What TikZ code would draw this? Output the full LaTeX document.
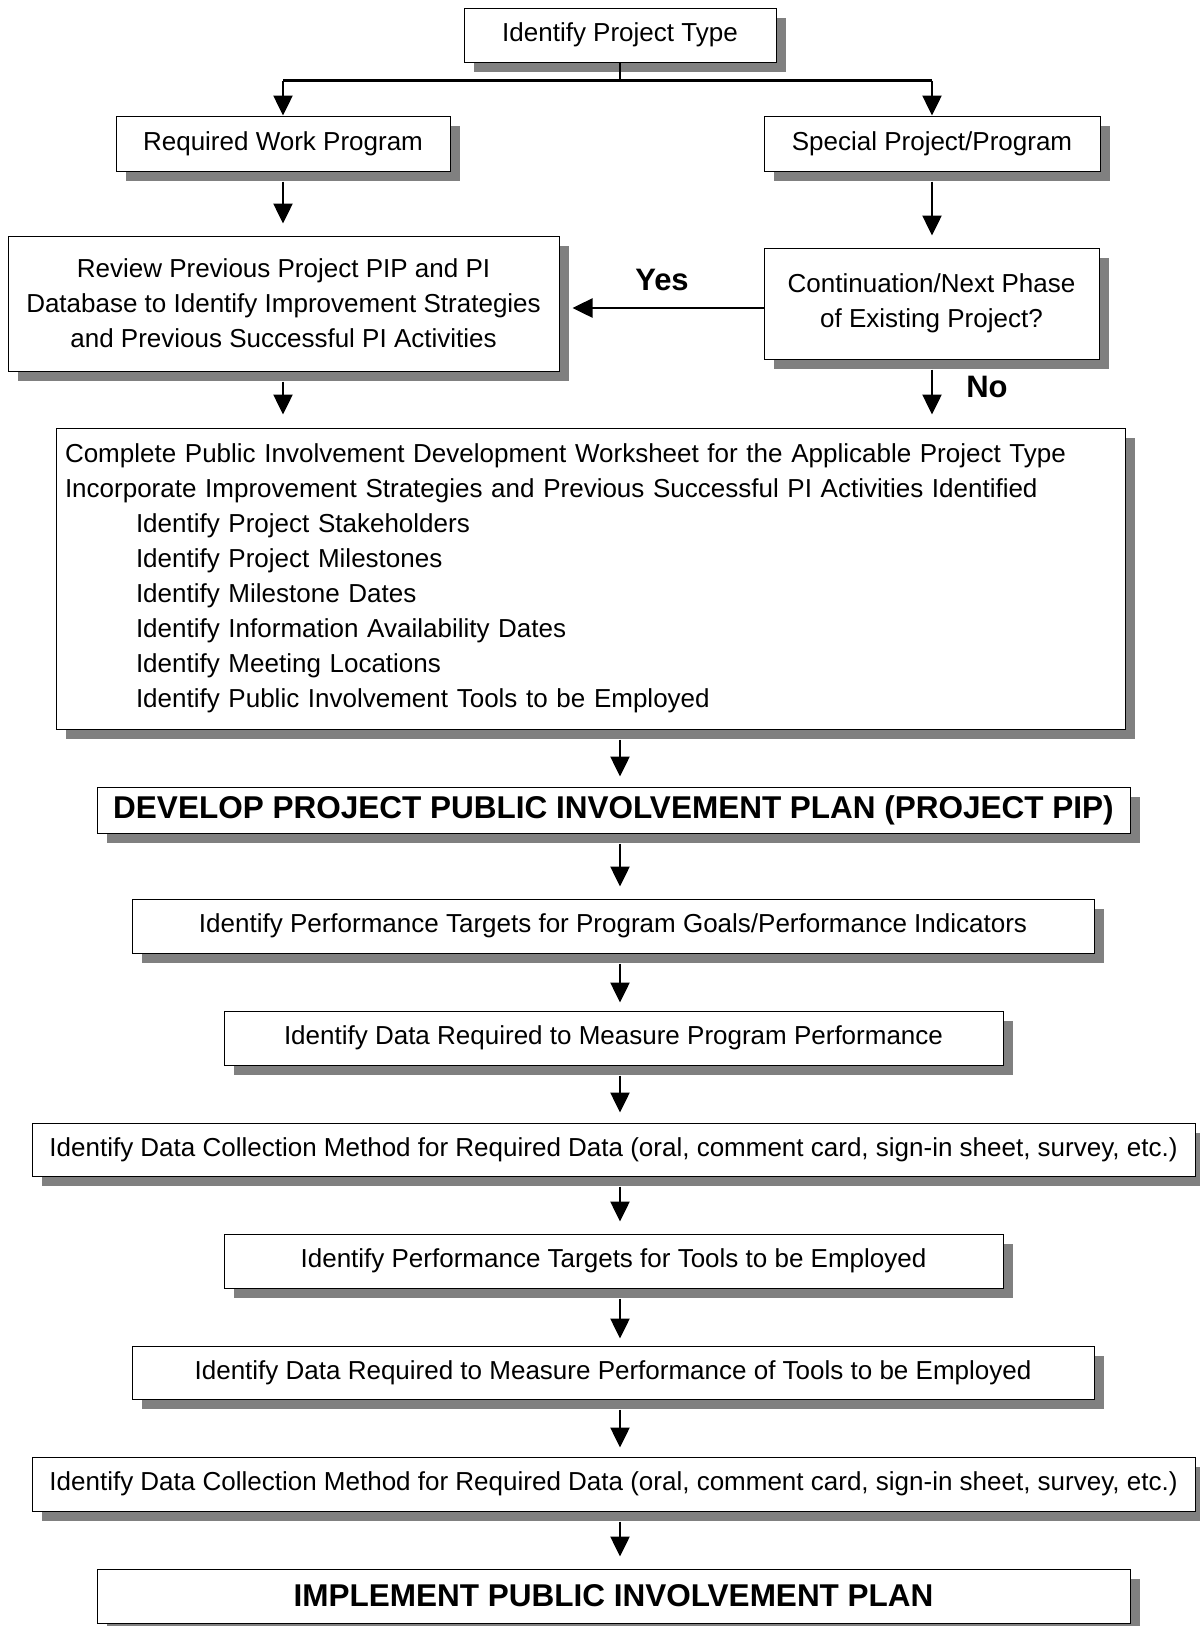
\documentclass[tikz,border=0pt]{standalone}
\usepackage{fontspec}
\setmainfont{Liberation Sans}
\usetikzlibrary{arrows.meta,shadows,calc}
\definecolor{shadowgray}{RGB}{128,128,128}
\begin{document}
\begin{tikzpicture}[x=1pt,y=1pt,
  box/.style={draw=black, line width=1pt, fill=white,
    drop shadow={shadow xshift=10pt, shadow yshift=-10pt, fill=shadowgray, opacity=1},
    inner sep=2pt, font=\fontsize{26}{35}\selectfont, align=center},
  bbox/.style={box, font=\bfseries\fontsize{31.5}{36}\selectfont},
  conn/.style={line width=2.5pt},
  arr/.style={line width=2.5pt, -{Triangle[length=20pt,width=19pt]}},
  lbl/.style={font=\bfseries\fontsize{31}{36}\selectfont}]
\useasboundingbox (0,0) rectangle (1200,-1626);

\node[box, minimum width=312, minimum height=54] (t1) at (620,-35) {Identify Project Type};
\node[box, minimum width=334, minimum height=55] (rw) at (283,-143.5) {Required Work Program};
\node[box, minimum width=336, minimum height=55] (sp) at (932,-143.5) {Special Project/Program};
\node[box, minimum width=551, minimum height=135] (rv) at (283.5,-303.5)
  {Review Previous Project PIP and PI\\Database to Identify Improvement Strategies\\and Previous Successful PI Activities};
\node[box, minimum width=335, minimum height=111] (cn) at (931.5,-303.5)
  {Continuation/Next Phase\\of Existing Project?};
\node[box, minimum width=1069, minimum height=301, text width=1051, align=left, inner xsep=9pt] (wk) at (590.5,-578.5)
  {Complete Public Involvement Development Worksheet for the Applicable Project Type\\
   Incorporate Improvement Strategies and Previous Successful PI Activities Identified\\
   \hspace*{71pt}Identify Project Stakeholders\\
   \hspace*{71pt}Identify Project Milestones\\
   \hspace*{71pt}Identify Milestone Dates\\
   \hspace*{71pt}Identify Information Availability Dates\\
   \hspace*{71pt}Identify Meeting Locations\\
   \hspace*{71pt}Identify Public Involvement Tools to be Employed};
\node[bbox, minimum width=1033, minimum height=46] (dv) at (613.5,-810)
  {DEVELOP PROJECT PUBLIC INVOLVEMENT PLAN (PROJECT PIP)};
\node[box, minimum width=962, minimum height=54] (pt1) at (613,-926)
  {Identify Performance Targets for Program Goals/Performance Indicators};
\node[box, minimum width=779, minimum height=54] (dr1) at (613.5,-1038)
  {Identify Data Required to Measure Program Performance};
\node[box, minimum width=1163, minimum height=53] (dc1) at (613.5,-1149.5)
  {Identify Data Collection Method for Required Data (oral, comment card, sign-in sheet, survey, etc.)};
\node[box, minimum width=779, minimum height=54] (pt2) at (613.5,-1261)
  {Identify Performance Targets for Tools to be Employed};
\node[box, minimum width=962, minimum height=53] (dr2) at (613,-1372.5)
  {Identify Data Required to Measure Performance of Tools to be Employed};
\node[box, minimum width=1163, minimum height=54] (dc2) at (613.5,-1484)
  {Identify Data Collection Method for Required Data (oral, comment card, sign-in sheet, survey, etc.)};
\node[bbox, minimum width=1033, minimum height=54] (im) at (613.5,-1596)
  {IMPLEMENT PUBLIC INVOLVEMENT PLAN};

\node[lbl] (yes) at (662,-280) {Yes};
\node[lbl] (no) at (987,-387) {No};

% branch
\draw[conn] (t1.south) -- ++(0,-18) coordinate (br);
\draw[conn] (br -| rw.north) -- (br -| sp.north);
\draw[arr] (br -| rw.north) -- (rw.north);
\draw[arr] (br -| sp.north) -- (sp.north);

\draw[arr] ($(rw.south)+(0,-10)$) -- ($(rw.south |- rv.north)+(0,12)$);
\draw[arr] ($(sp.south)+(0,-10)$) -- ($(sp.south |- cn.north)+(0,12)$);
\draw[arr] ($(cn.west)+(0,-4.5)$) -- ($(rv.east)+(13,-4.5)$);
\draw[arr] ($(rw.south |- rv.south)+(0,-10)$) -- ($(rw.south |- wk.north)+(0,13)$);
\draw[arr] ($(sp.south |- cn.south)+(0,-10)$) -- ($(sp.south |- wk.north)+(0,13)$);

\draw[arr] ($(t1.south |- wk.south)+(0,-10)$) -- ($(t1.south |- dv.north)+(0,10)$);
\draw[arr] ($(t1.south |- dv.south)+(0,-10)$) -- ($(t1.south |- pt1.north)+(0,12)$);
\draw[arr] ($(t1.south |- pt1.south)+(0,-10)$) -- ($(t1.south |- dr1.north)+(0,8)$);
\draw[arr] ($(t1.south |- dr1.south)+(0,-10)$) -- ($(t1.south |- dc1.north)+(0,10)$);
\draw[arr] ($(t1.south |- dc1.south)+(0,-10)$) -- ($(t1.south |- pt2.north)+(0,12)$);
\draw[arr] ($(t1.south |- pt2.south)+(0,-10)$) -- ($(t1.south |- dr2.north)+(0,7)$);
\draw[arr] ($(t1.south |- dr2.south)+(0,-10)$) -- ($(t1.south |- dc2.north)+(0,9)$);
\draw[arr] ($(t1.south |- dc2.south)+(0,-10)$) -- ($(t1.south |- im.north)+(0,12)$);
\end{tikzpicture}
\end{document}
